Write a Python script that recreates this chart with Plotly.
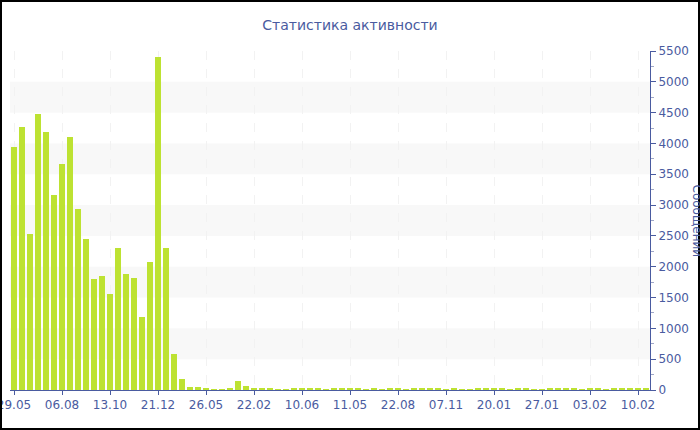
import plotly.graph_objects as go

title_text = "Статистика активности"
y_title = "Сообщений"

tick_labels = ["29.05", "06.08", "13.10", "21.12", "26.05", "22.02", "10.06",
               "11.05", "22.08", "07.11", "20.01", "27.01", "03.02", "10.02"]
tick_step = 6

messages = [
    3950, 4270, 2530, 4470, 4190, 3170, 3660, 4100, 2930, 2450,
    1800, 1850, 1560, 2300, 1890, 1820, 1180, 2070, 5400, 2310,
    590, 178, 49, 49, 32, 16, 16, 30, 151, 65,
    32, 32, 30, 16, 16, 20, 25, 18, 22, 15,
    20, 28, 18, 25, 15, 20, 12, 18, 22, 15,
    20, 18, 25, 20, 15, 18, 12, 15, 20, 22,
    18, 25, 15, 20, 18, 12, 15, 22, 18, 20,
    25, 15, 18, 20, 15, 22, 18, 25, 20, 28,
]

x_idx = list(range(len(messages)))
tickvals = [i * tick_step for i in range(len(tick_labels))]

axis_color = "#4a5ba0"
font_family = "DejaVu Sans"

fig = go.Figure()
fig.add_trace(go.Bar(
    x=x_idx, y=messages, width=0.65,
    marker=dict(color="#bde232", line=dict(width=0)),
    hoverinfo="x+y",
))

W, H = 700, 430
ml, mr, mt, mb = 10, 50, 51, 40
pw, ph = W - ml - mr, H - mt - mb

def px_to_paper_x(px):
    return (px - ml) / pw

def px_to_paper_y(py):
    return (H - mb - py) / ph

shapes = []
# alternating bands
for lo in range(500, 5500, 1000):
    shapes.append(dict(type="rect", xref="paper", yref="y", x0=0, x1=1,
                       y0=lo, y1=lo + 500, fillcolor="#f8f8f8",
                       line=dict(width=0), layer="below"))
# outer black border
shapes.append(dict(type="rect", xref="paper", yref="paper",
                   x0=px_to_paper_x(1), x1=px_to_paper_x(699),
                   y0=px_to_paper_y(429), y1=px_to_paper_y(1),
                   line=dict(color="black", width=2), fillcolor="rgba(0,0,0,0)"))

fig.update_layout(
    width=W, height=H,
    margin=dict(l=ml, r=mr, t=mt, b=mb, autoexpand=False),
    paper_bgcolor="white", plot_bgcolor="rgba(0,0,0,0)",
    showlegend=False,
    bargap=0,
    font=dict(family=font_family, size=12, color=axis_color),
    title=dict(text=title_text, x=0.5, xanchor="center",
               y=1 - 25 / H, yanchor="middle", yref="container",
               font=dict(family=font_family, size=14, color=axis_color)),
    shapes=shapes,
    annotations=[dict(text=y_title, xref="paper", yref="paper",
                      x=px_to_paper_x(697), y=0.5, xanchor="center", yanchor="middle",
                      textangle=90, showarrow=False,
                      font=dict(family=font_family, size=12, color=axis_color))],
)

fig.update_xaxes(
    range=[-0.5, len(messages) - 0.5],
    tickvals=tickvals, ticktext=tick_labels,
    showline=True, linecolor=axis_color, linewidth=1,
    ticks="outside", ticklen=4, tickcolor=axis_color,
    showgrid=True, gridcolor="#f2f2f2", griddash="dash", gridwidth=1,
    zeroline=False, automargin=False, ticklabeloverflow="allow",
    tickfont=dict(family=font_family, size=12, color=axis_color),
)

fig.update_yaxes(
    side="right", range=[0, 5500], dtick=500, tick0=0,
    showline=True, linecolor=axis_color, linewidth=1,
    ticks="outside", ticklen=5, tickcolor=axis_color,
    minor=dict(dtick=250, ticks="outside", ticklen=3, tickcolor="#a0a8c8", showgrid=False),
    showgrid=False, zeroline=False, automargin=False,
    tickformat="d",
    tickfont=dict(family=font_family, size=12, color=axis_color),
)

fig.write_html("out.html", config={"displayModeBar": False},
               post_script="document.body.style.margin='0px';document.body.style.overflow='hidden';")
